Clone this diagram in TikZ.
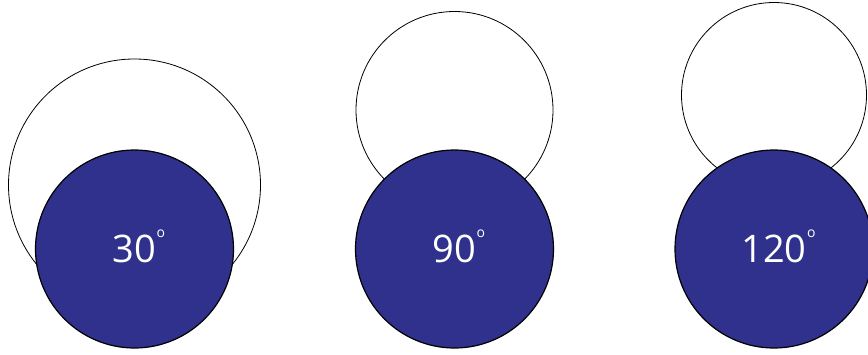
\documentclass[tikz,border=0pt]{standalone}
\usepackage{fontspec}
\setmainfont{Open Sans}
\definecolor{drop}{RGB}{47,49,140}
\tikzset{
  outline/.style={circle, draw=black, line width=0.8pt, fill=white, inner sep=0pt},
  drop/.style={circle, draw=black, line width=1.2pt, fill=drop, text=white, inner sep=0pt,
    minimum size=198pt, font=\fontsize{38}{38}\selectfont},
}
\newcommand{\dego}{\rlap{\smash{\kern0.5pt\raisebox{25pt}{\fontsize{14}{14}\selectfont o}}}}
\begin{document}
\begin{tikzpicture}[x=1pt,y=-1pt]
\useasboundingbox (0,0) rectangle (868,354);
\node[outline, minimum size=252pt] (o1) at (134.5,185) {};
\node[outline, minimum size=197pt] (o2) at (454.5,110) {};
\node[outline, minimum size=185pt] (o3) at (774,95) {};
\node[drop] (d1) at (134.5,249) {\raisebox{-1.5pt}{30\dego}};
\node[drop] (d2) at (454.5,249) {\raisebox{-1.5pt}{90\dego}};
\node[drop] (d3) at (774,249) {\raisebox{-1.5pt}{120\dego}};
\end{tikzpicture}
\end{document}
